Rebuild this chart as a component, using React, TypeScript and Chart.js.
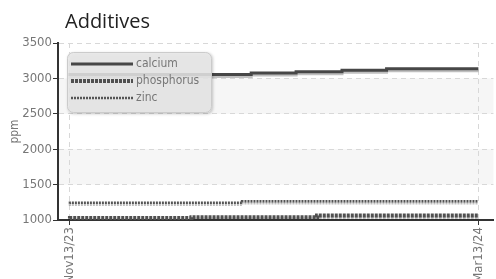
import React, { useEffect, useRef } from 'react';
import { Chart, registerables } from 'chart.js';

Chart.register(...registerables);

const titleText = 'Additives';
const yAxisTitle = 'ppm';
const tickDays = [0, 121];
const tickLabels = ['Nov13/23', 'Mar13/24'];
const yTicks = [1000, 1500, 2000, 2500, 3000, 3500];
const bandRanges = [
  [1500, 2000],
  [2500, 3000],
];

const calciumDays = [0, 53.7, 67, 80.6, 93.8, 107, 121];
const calciumValues = [3035, 3055, 3075, 3095, 3115, 3135, 3135];
const phosphorusDays = [0, 36, 73.2, 110.7, 121];
const phosphorusValues = [1020, 1030, 1040, 1065, 1065];
const zincDays = [0, 51, 104, 121];
const zincValues = [1230, 1245, 1265, 1265];

const FONT = '"DejaVu Sans Condensed", "Liberation Sans Narrow", Roboto, sans-serif';

const toPoints = (xs: number[], ys: number[]) => xs.map((x, i) => ({ x, y: ys[i] }));

const bandsPlugin = {
  id: 'bands',
  beforeDraw(chart: any) {
    const { ctx, chartArea, scales } = chart;
    const y = scales.y;
    ctx.save();
    ctx.fillStyle = '#f6f6f6';
    bandRanges.forEach(([a, b]) => {
      const top = y.getPixelForValue(b);
      const bot = y.getPixelForValue(a);
      ctx.fillRect(chartArea.left, top, chartArea.right - chartArea.left, bot - top);
    });
    ctx.restore();
  },
};

const shadowPlugin = {
  id: 'lineShadow',
  beforeDatasetDraw(chart: any) {
    const ctx = chart.ctx;
    ctx.save();
    ctx.shadowColor = 'rgba(0,0,0,0.25)';
    ctx.shadowOffsetX = 0;
    ctx.shadowOffsetY = 2;
    ctx.shadowBlur = 0;
  },
  afterDatasetDraw(chart: any) {
    chart.ctx.restore();
  },
};

const overlayPlugin = {
  id: 'overlay',
  afterDraw(chart: any) {
    const { ctx, chartArea } = chart;
    ctx.save();
    ctx.font = '20px "Open Sans", sans-serif';
    ctx.fillStyle = '#222';
    ctx.textBaseline = 'alphabetic';
    ctx.textAlign = 'left';
    ctx.fillText(titleText, chartArea.left + 7, 28);

    const bx = chartArea.left + 9;
    const by = 52;
    const bw = 145;
    const bh = 61;
    ctx.save();
    ctx.shadowColor = 'rgba(0,0,0,0.25)';
    ctx.shadowOffsetX = 1;
    ctx.shadowOffsetY = 1;
    ctx.shadowBlur = 3;
    ctx.fillStyle = 'rgba(234,234,234,0.85)';
    ctx.beginPath();
    ctx.roundRect(bx, by, bw, bh, 6);
    ctx.fill();
    ctx.restore();
    ctx.strokeStyle = 'rgba(200,200,200,0.9)';
    ctx.lineWidth = 1;
    ctx.beginPath();
    ctx.roundRect(bx + 0.5, by + 0.5, bw - 1, bh - 1, 6);
    ctx.stroke();

    const rows = [64, 81, 98];
    chart.data.datasets.forEach((ds: any, i: number) => {
      const yy = rows[i];
      ctx.save();
      ctx.strokeStyle = ds.borderColor;
      ctx.lineWidth = ds.borderWidth;
      ctx.setLineDash(ds.borderDash || []);
      ctx.beginPath();
      ctx.moveTo(bx + 4, yy);
      ctx.lineTo(bx + 66, yy);
      ctx.stroke();
      ctx.restore();
      ctx.font = '12px ' + FONT;
      ctx.fillStyle = '#777';
      ctx.textBaseline = 'middle';
      ctx.fillText(ds.label, bx + 69, yy);
    });
    ctx.restore();
  },
};

export default function App() {
  const ref = useRef<HTMLCanvasElement | null>(null);
  useEffect(() => {
    if (!ref.current) return;
    const chart = new Chart(ref.current, {
      type: 'line',
      data: {
        datasets: [
          {
            label: 'calcium',
            data: toPoints(calciumDays, calciumValues),
            borderColor: '#474747',
            borderWidth: 3,
            stepped: 'after',
            pointRadius: 0,
            fill: false,
          },
          {
            label: 'phosphorus',
            data: toPoints(phosphorusDays, phosphorusValues),
            borderColor: '#505050',
            borderWidth: 4,
            borderDash: [3, 1],
            stepped: 'after',
            pointRadius: 0,
            fill: false,
          },
          {
            label: 'zinc',
            data: toPoints(zincDays, zincValues),
            borderColor: '#555555',
            borderWidth: 2.5,
            borderDash: [2, 1],
            stepped: 'after',
            pointRadius: 0,
            fill: false,
          },
        ],
      } as any,
      options: {
        animation: false,
        responsive: true,
        maintainAspectRatio: false,
        layout: { padding: { top: 43, right: 1, left: 0, bottom: 0 } },
        plugins: {
          legend: { display: false },
          title: { display: false },
          tooltip: { enabled: false },
        },
        scales: {
          x: {
            type: 'linear',
            min: -3.54,
            max: 125.46,
            afterBuildTicks: (s: any) => {
              s.ticks = tickDays.map((v) => ({ value: v }));
            },
            afterFit: (s: any) => {
              s.height = 59;
            },
            ticks: {
              callback: (_v: any, i: number) => tickLabels[i] ?? '',
              minRotation: 90,
              maxRotation: 90,
              autoSkip: false,
              color: '#777',
              font: { family: FONT, size: 13 },
              padding: 2,
            },
            grid: { color: '#d8d8d8', tickColor: '#333', tickLength: 5 },
            border: { color: '#333', width: 2, dash: [5, 4] },
          },
          y: {
            min: 1000,
            max: 3500,
            afterBuildTicks: (s: any) => {
              s.ticks = yTicks.map((v) => ({ value: v }));
            },
            afterFit: (s: any) => {
              s.width = 58;
            },
            title: {
              display: true,
              text: yAxisTitle,
              color: '#777',
              font: { family: FONT, size: 12 },
              padding: { top: 8, bottom: 0 },
            },
            ticks: {
              callback: (v: any) => String(v),
              color: '#777',
              font: { family: FONT, size: 13 },
              padding: 1,
            },
            grid: { color: '#d8d8d8', tickColor: '#333', tickLength: 5 },
            border: { color: '#333', width: 2, dash: [5, 4] },
          },
        },
      } as any,
      plugins: [bandsPlugin, shadowPlugin, overlayPlugin],
    });
    return () => chart.destroy();
  }, []);
  return (
    <div style={{ position: 'absolute', left: 0, top: 0, width: 496, height: 279 }}>
      <canvas ref={ref} />
    </div>
  );
}
